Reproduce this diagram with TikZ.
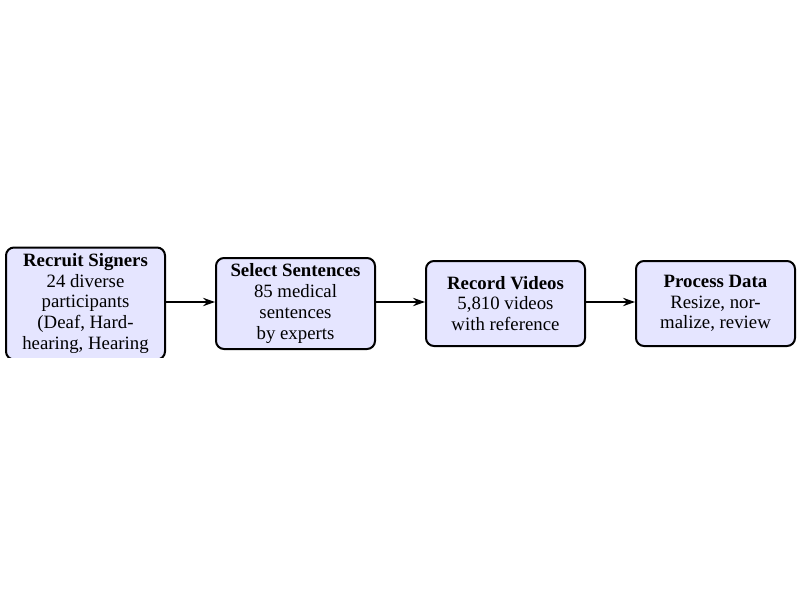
\documentclass[tikz,border=0pt]{standalone}
\usepackage{fontspec}
\setmainfont{Liberation Serif}
\usetikzlibrary{arrows.meta}
\begin{document}
\begin{tikzpicture}[x=0.5pt,y=-0.5pt,
  stagebox/.style={draw=black, line width=1pt, fill=blue!10, rounded corners=4pt,
    minimum width=79.5pt, align=center, inner sep=0pt,
    font=\fontsize{9.4}{10.35}\selectfont},
  flow/.style={-{Stealth[length=6pt,width=4.2pt,inset=2pt]}, line width=0.65pt}]
\useasboundingbox (0,0) rectangle (800,600);
\begin{scope}
  \clip (0,0) rectangle (800,357);
  \node[stagebox, minimum height=56pt] (s1) at (85.5,303.5)
    {\textbf{Recruit Signers}\\24 diverse\\participants\\(Deaf, Hard-\\hearing, Hearing};
\end{scope}
\node[stagebox, minimum height=45.5pt] (s2) at (295.5,303.5)
  {\textbf{Select Sentences}\\85 medical\\sentences\\by experts};
\node[stagebox, minimum height=42.5pt] (s3) at (505.5,303.5)
  {\textbf{Record Videos}\\5,810 videos\\with reference};
\node[stagebox, minimum height=42.5pt] (s4) at (715.5,303.5)
  {\textbf{Process Data}\\Resize, nor-\\malize, review};
\draw[flow] (s1.east |- 0,302) -- (s2.west |- 0,302);
\draw[flow] (s2.east |- 0,302) -- (s3.west |- 0,302);
\draw[flow] (s3.east |- 0,302) -- (s4.west |- 0,302);
\end{tikzpicture}
\end{document}
